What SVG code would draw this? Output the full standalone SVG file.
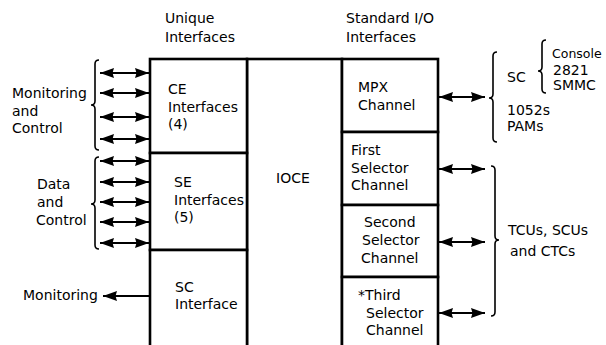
<svg xmlns="http://www.w3.org/2000/svg" width="606" height="345" viewBox="0 0 606 345">
<style>
text{font-family:"DejaVu Sans","Liberation Sans",sans-serif;font-size:14px;fill:#000}
.sm{font-size:12.5px}
.box{fill:#fff;stroke:#000;stroke-width:2.6}
.arr{stroke:#000;stroke-width:2.2;fill:none}
.br{stroke:#000;stroke-width:1.6;fill:none}
</style>
<defs>
<marker id="ah" markerUnits="userSpaceOnUse" markerWidth="15" markerHeight="11" refX="14" refY="5" orient="auto-start-reverse">
<path d="M0,0 L14,5 L0,10 L1.5,5 z" fill="#000"/>
</marker>
</defs>
<rect width="606" height="345" fill="#fff"/>
<g id="headings">
<text x="165" y="23">Unique</text>
<text x="165" y="42">Interfaces</text>
<text x="346" y="23">Standard I/O</text>
<text x="346" y="42">Interfaces</text>
</g>
<g id="ioce"><rect class="box" x="247" y="59" width="95" height="295"/><text x="276" y="183">IOCE</text></g>
<g id="ce"><rect class="box" x="150" y="59" width="97" height="94"/><text x="168" y="94">CE</text><text x="168" y="112">Interfaces</text><text x="168" y="129">(4)</text></g>
<g id="se"><rect class="box" x="150" y="153" width="97" height="97"/><text x="174" y="187">SE</text><text x="174" y="205">Interfaces</text><text x="174" y="222">(5)</text></g>
<g id="sc"><rect class="box" x="150" y="250" width="97" height="104"/><text x="175" y="292">SC</text><text x="175" y="309">Interface</text></g>
<g id="mpx"><rect class="box" x="342" y="59" width="96" height="73"/><text x="358" y="92">MPX</text><text x="358" y="110">Channel</text></g>
<g id="first"><rect class="box" x="342" y="132" width="96" height="73"/><text x="351" y="155">First</text><text x="351" y="173">Selector</text><text x="351" y="190">Channel</text></g>
<g id="second"><rect class="box" x="342" y="205" width="96" height="72"/><text x="364" y="227">Second</text><text x="362" y="245">Selector</text><text x="361" y="263">Channel</text></g>
<g id="third"><rect class="box" x="342" y="277" width="96" height="77"/><text x="358" y="300">*Third</text><text x="366" y="318">Selector</text><text x="366" y="335">Channel</text></g>
<g id="left-labels">
<text x="12" y="98">Monitoring</text><text x="12" y="116">and</text><text x="12" y="133">Control</text>
<text x="37" y="189">Data</text><text x="37" y="207">and</text><text x="36" y="225">Control</text>
<text x="23" y="300">Monitoring</text>
</g>
<g id="right-labels">
<text x="507" y="82">SC</text>
<text class="sm" x="552" y="58">Console</text><text x="553" y="75">2821</text><text x="553" y="90">SMMC</text>
<text x="507" y="115">1052s</text><text x="507" y="131">PAMs</text>
<text x="508" y="235">TCUs, SCUs</text><text x="510" y="256">and CTCs</text>
</g>
<g id="connectors">
<line class="arr" x1="100" y1="73" x2="149" y2="73" marker-start="url(#ah)" marker-end="url(#ah)"/>
<line class="arr" x1="100" y1="93" x2="149" y2="93" marker-start="url(#ah)" marker-end="url(#ah)"/>
<line class="arr" x1="100" y1="117" x2="149" y2="117" marker-start="url(#ah)" marker-end="url(#ah)"/>
<line class="arr" x1="100" y1="139" x2="149" y2="139" marker-start="url(#ah)" marker-end="url(#ah)"/>
<line class="arr" x1="100" y1="161" x2="149" y2="161" marker-start="url(#ah)" marker-end="url(#ah)"/>
<line class="arr" x1="100" y1="182" x2="149" y2="182" marker-start="url(#ah)" marker-end="url(#ah)"/>
<line class="arr" x1="100" y1="202" x2="149" y2="202" marker-start="url(#ah)" marker-end="url(#ah)"/>
<line class="arr" x1="100" y1="222" x2="149" y2="222" marker-start="url(#ah)" marker-end="url(#ah)"/>
<line class="arr" x1="100" y1="243" x2="149" y2="243" marker-start="url(#ah)" marker-end="url(#ah)"/>
<line class="arr" x1="103" y1="296" x2="150" y2="296" marker-start="url(#ah)"/>
<line class="arr" x1="439" y1="97" x2="485" y2="97" marker-start="url(#ah)" marker-end="url(#ah)"/>
<line class="arr" x1="439" y1="169" x2="485" y2="169" marker-start="url(#ah)" marker-end="url(#ah)"/>
<line class="arr" x1="439" y1="242" x2="485" y2="242" marker-start="url(#ah)" marker-end="url(#ah)"/>
<line class="arr" x1="439" y1="313" x2="485" y2="313" marker-start="url(#ah)" marker-end="url(#ah)"/>
<path class="br" d="M99,60 Q95,60 95,64 L95,101 Q95,105 91,105 Q95,105 95,109 L95,146 Q95,150 99,150"/>
<path class="br" d="M99,157 Q95,157 95,161 L95,200 Q95,204 91,204 Q95,204 95,208 L95,245 Q95,249 99,249"/>
<path class="br" d="M497,52 Q493,52 493,56 L493,94 Q493,98 489,98 Q493,98 493,102 L493,138 Q493,142 497,142"/>
<path class="br" d="M546,40 Q542,40 542,44 L542,67 Q542,71 538,71 Q542,71 542,75 L542,89 Q542,93 546,93"/>
<path class="br" d="M491,166 Q495,166 495,170 L495,236 Q495,240 499,240 Q495,240 495,244 L495,312 Q495,316 491,316"/>
</g>
</svg>
